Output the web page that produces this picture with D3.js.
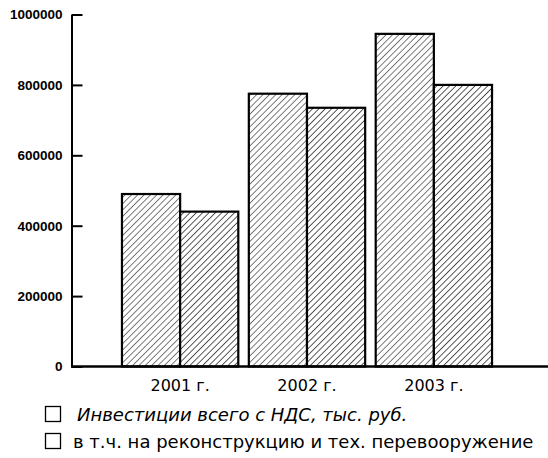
<!DOCTYPE html>
<html>
<head>
<meta charset="utf-8">
<script src="https://cdn.jsdelivr.net/npm/d3@7"></script>
<style>
  body { margin: 0; background: #fff; }
  svg { display: block; font-family: Arial, "Liberation Sans", sans-serif; }
</style>
</head>
<body>
<div class="chart"></div>
<script>
const years = ['2001 г.', '2002 г.', '2003 г.'];
const series = ['Инвестиции всего с НДС, тыс. руб.', 'в т.ч. на реконструкцию и тех. перевооружение'];
const totalInvest = [490000, 775000, 945000];
const reconstruction = [440000, 735000, 800000];
const yTicks = [0, 200000, 400000, 600000, 800000, 1000000];

const w = 548;
const h = 458;

const svg = d3.select('.chart')
  .append('svg')
  .attr('width', w)
  .attr('height', h);

// hatch patterns, second one a bit denser
const defs = svg.append('defs');
[{ id: 'hatch0', sw: 1.2 }, { id: 'hatch1', sw: 1.5 }].forEach((p) => {
  const pat = defs.append('pattern')
    .attr('id', p.id)
    .attr('patternUnits', 'userSpaceOnUse')
    .attr('width', 4.5)
    .attr('height', 4.5)
    .attr('patternTransform', 'rotate(45)');
  pat.append('rect').attr('width', 4.5).attr('height', 4.5).attr('fill', '#fff');
  pat.append('line')
    .attr('x1', 0).attr('y1', 0).attr('x2', 0).attr('y2', 4.5)
    .attr('stroke', '#222')
    .attr('stroke-width', p.sw);
});

const yScale = d3.scaleLinear()
  .domain([0, 1000000])
  .range([366.5, 14.5]);

const xScale = d3.scaleBand()
  .domain(years)
  .range([116.7, 497.3])
  .paddingInner(0.083)
  .paddingOuter(0.0415);

const xInner = d3.scaleBand()
  .domain([0, 1])
  .range([0, xScale.bandwidth()]);

const rows = years.map((y, i) => ({ year: y, values: [totalInvest[i], reconstruction[i]] }));

const groups = svg.selectAll('.group')
  .data(rows)
  .enter()
  .append('g')
  .attr('class', 'group')
  .attr('transform', (d) => `translate(${xScale(d.year)},0)`);

groups.selectAll('rect')
  .data((d) => d.values)
  .enter()
  .append('rect')
  .attr('x', (d, i) => xInner(i))
  .attr('y', (d) => yScale(d))
  .attr('width', xInner.bandwidth())
  .attr('height', (d) => yScale(0) - yScale(d))
  .attr('fill', (d, i) => `url(#hatch${i})`)
  .attr('stroke', '#000')
  .attr('stroke-width', 2.2);

// y axis, ticks point inward
svg.append('g')
  .attr('class', 'y-axis')
  .attr('transform', 'translate(71.5,0)')
  .call(d3.axisLeft(yScale)
    .tickValues(yTicks)
    .tickFormat((d) => d)
    .tickSizeInner(-11)
    .tickSizeOuter(0)
    .tickPadding(9))
  .call((g) => g.selectAll('line, path').attr('stroke', '#000').attr('stroke-width', 2))
  .call((g) => g.selectAll('text')
    .attr('fill', '#000')
    .style('font-size', '13.5px')
    .style('font-weight', 'bold'));

// baseline
svg.append('line')
  .attr('x1', 71)
  .attr('x2', w)
  .attr('y1', yScale(0))
  .attr('y2', yScale(0))
  .attr('stroke', '#000')
  .attr('stroke-width', 2.5);

svg.append('g')
  .attr('class', 'x-axis')
  .attr('transform', `translate(0,${yScale(0)})`)
  .call(d3.axisBottom(xScale).tickSize(0).tickPadding(13))
  .call((g) => g.select('.domain').remove())
  .call((g) => g.selectAll('text')
    .attr('fill', '#000')
    .style('font-family', '"DejaVu Sans", sans-serif')
    .style('font-size', '16px'));

const legend = svg.append('g')
  .attr('class', 'legend')
  .attr('transform', 'translate(45,406)');

legend.selectAll('rect')
  .data(series)
  .enter()
  .append('rect')
  .attr('x', 0.5)
  .attr('y', (d, i) => i * 27 + 0.5)
  .attr('width', 15)
  .attr('height', 15)
  .attr('fill', '#fff')
  .attr('stroke', '#000')
  .attr('stroke-width', 1.3);

legend.selectAll('text')
  .data(series)
  .enter()
  .append('text')
  .attr('x', (d, i) => i === 0 ? 32 : 28)
  .attr('y', (d, i) => i * 27 + 15)
  .text((d) => d)
  .style('font-family', '"DejaVu Sans", sans-serif')
  .style('font-size', '18px')
  .style('font-style', (d, i) => i === 0 ? 'italic' : 'normal');
</script>
</body>
</html>
